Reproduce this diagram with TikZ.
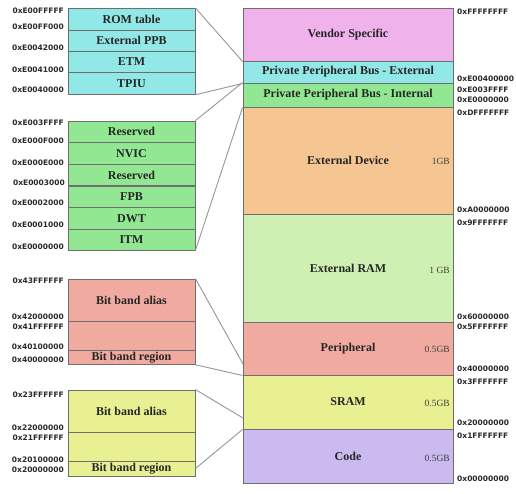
\documentclass[tikz,border=0pt]{standalone}
\usepackage{fontspec}
\setmainfont{Liberation Serif}
\newfontfamily\addrfont{DejaVu Sans}
\usetikzlibrary{calc}
\definecolor{cvendor}{RGB}{240,178,234}
\definecolor{cppbe}{RGB}{146,232,230}
\definecolor{cppbi}{RGB}{146,232,146}
\definecolor{cextdev}{RGB}{245,198,146}
\definecolor{cextram}{RGB}{206,240,178}
\definecolor{cper}{RGB}{240,170,160}
\definecolor{csram}{RGB}{232,240,146}
\definecolor{ccode}{RGB}{202,186,240}
\definecolor{cborder}{RGB}{110,110,110}
\definecolor{cline}{RGB}{150,150,150}
\definecolor{caddr}{RGB}{40,40,40}
\tikzset{
  region/.style={draw=cborder, line width=0.9pt, minimum width=210pt, inner sep=0pt,
    font=\bfseries\fontsize{12}{12}\selectfont, text=black!85},
  sub/.style={draw=cborder, line width=0.9pt, minimum width=127pt, inner sep=0pt,
    font=\bfseries\fontsize{12}{12}\selectfont, text=black!85},
  addrR/.style={anchor=west, inner sep=0pt, font=\addrfont\bfseries\fontsize{7.5}{8}\selectfont, text=caddr},
  addrL/.style={anchor=east, inner sep=0pt, font=\addrfont\bfseries\fontsize{7.5}{8}\selectfont, text=caddr},
  size/.style={anchor=east, inner sep=0pt, font=\fontsize{9.5}{10}\selectfont, text=black!75},
  conn/.style={draw=cline, line width=0.9pt}
}
\begin{document}
\begin{tikzpicture}[x=1pt,y=-1pt]
\useasboundingbox[fill=white] (0,0) rectangle (516,493);

% ---- right column: memory map ----
\node[region, fill=cvendor, minimum height=53pt] (vendor) at (348,34.5) {Vendor Specific};
\node[region, fill=cppbe, minimum height=22pt] (ppbe) at (348,72) {Private Peripheral Bus - External};
\node[region, fill=cppbi, minimum height=24pt] (ppbi) at (348,95) {Private Peripheral Bus - Internal};
\node[region, fill=cextdev, minimum height=107pt] (extdev) at (348,160.5) {External Device};
\node[region, fill=cextram, minimum height=108pt] (extram) at (348,268) {External RAM};
\node[region, fill=cper, minimum height=53pt] (per) at (348,348.5) {Peripheral};
\node[region, fill=csram, minimum height=54pt] (sram) at (348,402) {SRAM};
\node[region, fill=ccode, minimum height=54pt] (code) at (348,456) {Code};

% sizes
\node[size] (s1) at (450,161) {1GB};
\node[size] (s2) at (450,270) {1 GB};
\node[size] (s3) at (450,349) {0.5GB};
\node[size] (s4) at (450,403) {0.5GB};
\node[size] (s5) at (450,458) {0.5GB};

% right addresses
\node[addrR] (r1) at (457,12) {0xFFFFFFFF};
\node[addrR] (r2) at (457,79) {0xE00400000};
\node[addrR] (r3) at (457,90) {0xE003FFFF};
\node[addrR] (r4) at (457,100) {0xE0000000};
\node[addrR] (r5) at (457,113) {0xDFFFFFFF};
\node[addrR] (r6) at (457,210) {0xA0000000};
\node[addrR] (r7) at (457,223) {0x9FFFFFFF};
\node[addrR] (r8) at (457,317) {0x60000000};
\node[addrR] (r9) at (457,327) {0x5FFFFFFF};
\node[addrR] (r10) at (457,369) {0x40000000};
\node[addrR] (r11) at (457,382) {0x3FFFFFFF};
\node[addrR] (r12) at (457,423) {0x20000000};
\node[addrR] (r13) at (457,436) {0x1FFFFFFF};
\node[addrR] (r14) at (457,479) {0x00000000};

% ---- group 1: PPB external ----
\node[sub, fill=cppbe, minimum height=21.7pt] (rom) at (131.5,19.2) {ROM table};
\node[sub, fill=cppbe, minimum height=21pt] (eppb) at (131.5,40.5) {External PPB};
\node[sub, fill=cppbe, minimum height=21.7pt] (etm) at (131.5,61.9) {ETM};
\node[sub, fill=cppbe, minimum height=21.6pt] (tpiu) at (131.5,83.5) {TPIU};
\node[addrL] (a1) at (64,11) {0xE00FFFFF};
\node[addrL] (a2) at (64,27) {0xE00FF000};
\node[addrL] (a3) at (64,48) {0xE0042000};
\node[addrL] (a4) at (64,70) {0xE0041000};
\node[addrL] (a5) at (64,90) {0xE0040000};

% ---- group 2: PPB internal ----
\node[sub, fill=cppbi, minimum height=21.6pt] (res1) at (131.5,131.8) {Reserved};
\node[sub, fill=cppbi, minimum height=21.6pt] (nvic) at (131.5,153.5) {NVIC};
\node[sub, fill=cppbi, minimum height=21.6pt] (res2) at (131.5,175.1) {Reserved};
\node[sub, fill=cppbi, minimum height=21.6pt] (fpb) at (131.5,196.8) {FPB};
\node[sub, fill=cppbi, minimum height=21.6pt] (dwt) at (131.5,218.5) {DWT};
\node[sub, fill=cppbi, minimum height=20.7pt] (itm) at (131.5,239.6) {ITM};
\node[addrL] (b1) at (64,123) {0xE003FFFF};
\node[addrL] (b2) at (64,141) {0xE000F000};
\node[addrL] (b3) at (64,163) {0xE000E000};
\node[addrL] (b4) at (65,183) {0xE0003000};
\node[addrL] (b5) at (64,203) {0xE0002000};
\node[addrL] (b6) at (64,225) {0xE0001000};
\node[addrL] (b7) at (64,247) {0xE0000000};

% ---- group 3: peripheral bit band ----
\node[sub, fill=cper, minimum height=42.7pt] (palias) at (131.5,300.4) {Bit band alias};
\node[sub, fill=cper, minimum height=28.3pt] (pgap) at (131.5,335.9) {};
\node[sub, fill=cper, minimum height=14.3pt] (preg) at (131.5,357.2) {Bit band region};
\node[addrL] (c1) at (64,281) {0x43FFFFFF};
\node[addrL] (c2) at (64,317) {0x42000000};
\node[addrL] (c3) at (64,327) {0x41FFFFFF};
\node[addrL] (c4) at (64,347) {0x40100000};
\node[addrL] (c5) at (64,360) {0x40000000};

% ---- group 4: SRAM bit band ----
\node[sub, fill=csram, minimum height=42pt] (salias) at (131.5,411) {Bit band alias};
\node[sub, fill=csram, minimum height=29pt] (sgap) at (131.5,446.5) {};
\node[sub, fill=csram, minimum height=15pt] (sreg) at (131.5,468.5) {Bit band region};
\node[addrL] (d1) at (64,395) {0x23FFFFFF};
\node[addrL] (d2) at (64,428) {0x22000000};
\node[addrL] (d3) at (64,438) {0x21FFFFFF};
\node[addrL] (d4) at (64,460) {0x20100000};
\node[addrL] (d5) at (64,470) {0x20000000};

% ---- connectors ----
\coordinate (pbtarget) at (243,364);
\coordinate (sbtarget) at (243,418);
\draw[conn] (rom.north east) -- (vendor.south west);
\draw[conn] (tpiu.south east) -- (ppbe.south west);
\draw[conn] (res1.north east) -- (ppbi.north west);
\draw[conn] (itm.south east) -- (ppbi.south west);
\draw[conn] (palias.north east) -- (pbtarget);
\draw[conn] (preg.south east) -- (per.south west);
\draw[conn] (salias.north east) -- (sbtarget);
\draw[conn] (sreg.east) -- (sram.south west);
\end{tikzpicture}
\end{document}
